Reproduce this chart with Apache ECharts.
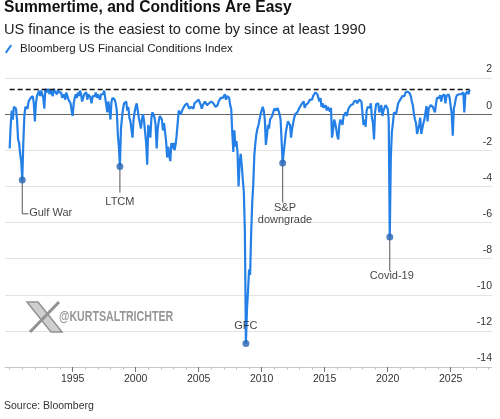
<!DOCTYPE html>
<html>
<head>
<meta charset="utf-8">
<script src="https://cdn.jsdelivr.net/npm/echarts@6/dist/echarts.min.js"></script>
<style>
  html, body { margin: 0; padding: 0; background: #fff; }
  #chart-container { width: 500px; height: 419px; }
</style>
</head>
<body>
<div id="chart-container"></div>
<script>
const FONT = '"Liberation Sans", Arial, sans-serif';

// Monthly readings of the index, Jan 1990 onwards
const startYear = 1990;
const fciValues = [
  -1.9, -0.6, 0.2, -0.3, 0.4, 0.5, 0.3, -0.3, -1.4, -1.6, -2.2, -2.6, // 1990
  -3.65, -1.6, -0.1, 0.4, 0.5, 0.3, 0.7, 0.6, 0.9, 0.8, 1.0, 0.6,     // 1991
  -0.4, 0.6, 1.0, 1.1, 1.3, 1.0, 1.3, 1.2, 0.9, 0.3, 1.4, 1.2,        // 1992
  1.2, 1.4, 1.1, 1.35, 1.3, 1.0, 1.4, 1.25, 1.3, 1.1, 1.35, 1.2,      // 1993
  1.3, 1.2, 0.9, 1.0, 1.1, 0.8, 1.2, 1.0, 0.8, 0.9, 0.6, 0.2,         // 1994
  -0.1, 0.6, 0.9, 1.1, 0.9, 1.2, 1.0, 1.3, 1.1, 0.7, 0.9, 1.1,        // 1995
  1.0, 1.2, 0.8, 1.1, 1.0, 0.9, 0.6, 1.0, 1.1, 1.0, 1.2, 0.9,         // 1996
  1.1, 1.0, 0.8, 1.1, 1.2, 1.1, 1.3, 0.9, 1.0, 0.1, 0.7, 0.3,         // 1997
  -0.3, 0.7, 0.9, 1.0, 0.8, 0.6, 0.2, -1.1, -1.8, -2.9, -0.8, -0.2,   // 1998
  0.3, 0.6, 0.5, 0.7, 0.2, 0.4, -0.2, -0.4, -0.4, -1.3, -0.3, 0.1,    // 1999
  0.4, 0.6, 0.2, -0.2, -0.5, -0.8, -0.3, 0.0, -0.4, -1.0, -1.6, -2.8, // 2000
  -0.6, -0.9, -1.3, -0.2, 0.1, 0.2, -0.2, -0.6, -1.9, -0.8, -0.4, -0.1, // 2001
  0.0, -0.3, -0.9, -0.5, -1.0, -1.5, -2.4, -1.8, -2.3, -2.6, -1.6, -1.9, // 2002
  -1.6, -2.0, -1.7, -1.2, -0.5, 0.2, 0.3, 0.0, 0.1, 0.3, 0.4, 0.5,    // 2003
  0.4, 0.6, 0.5, 0.3, 0.2, 0.4, 0.5, 0.3, 0.6, 0.5, 0.7, 0.8,         // 2004
  0.8, 0.7, 0.5, 0.3, 0.5, 0.6, 0.7, 0.6, 0.5, 0.4, 0.6, 0.7,         // 2005
  0.7, 0.8, 0.6, 0.7, 0.4, 0.3, 0.5, 0.7, 0.8, 0.9, 0.8, 0.9,         // 2006
  0.9, 1.1, 0.8, 1.0, 1.1, 0.9, 0.5, 0.3, -1.0, -2.1, -0.9, -1.8,     // 2007
  -1.5, -2.1, -4.0, -2.7, -2.2, -2.8, -3.6, -4.3, -6.5, -12.7, -10.8, -9.8, // 2008
  -8.6, -8.9, -6.6, -4.9, -3.9, -2.3, -1.6, -1.1, -0.8, -0.6, -0.3, 0.0, // 2009
  0.1, 0.4, 0.2, -0.3, -1.7, -1.2, -0.6, -0.8, -0.3, -0.2, -0.1, 0.1, // 2010
  0.3, 0.4, 0.2, 0.35, 0.2, 0.0, -0.3, -1.5, -2.7, -2.1, -1.6, -1.0,  // 2011
  -0.7, -0.4, -0.3, -0.6, -1.3, -0.8, -0.5, -0.2, 0.0, -0.1, 0.1, 0.0, // 2012
  0.35, 0.4, 0.55, 0.5, 0.7, 0.35, 0.5, 0.4, 0.6, 0.7, 0.8, 0.9,      // 2013
  0.8, 1.0, 1.1, 1.2, 1.25, 1.1, 0.9, 0.7, 0.9, 0.4, 0.6, 0.35,       // 2014
  0.3, 0.5, 0.2, 0.4, 0.3, 0.15, 0.35, -1.3, -0.9, -0.3, -0.5, -0.8,  // 2015
  -1.2, -1.4, -0.6, -0.3, -0.2, -0.6, -0.1, 0.0, 0.1, -0.1, 0.15, 0.35, // 2016
  0.4, 0.5, 0.6, 0.55, 0.7, 0.8, 0.75, 0.6, 0.7, 0.8, 0.75, 0.7,      // 2017
  0.8, -0.6, -0.3, -0.7, 0.2, 0.4, 0.5, 0.35, 0.6, -0.2, -0.5, -1.4,  // 2018
  0.1, 0.55, 0.5, 0.6, 0.1, 0.3, 0.5, -0.1, 0.2, 0.3, 0.5, 0.45,      // 2019
  0.3, -0.3, -6.8, -2.4, -1.0, -0.5, 0.1, 0.2, 0.0, 0.3, 0.6, 0.7,    // 2020
  0.8, 0.9, 1.0, 1.1, 1.0, 1.2, 1.1, 1.25, 1.2, 1.15, 1.0, 0.7,       // 2021
  0.5, 0.0, -0.3, -0.5, -1.1, -1.2, -0.6, -0.2, -1.1, -1.2, -0.5, -0.3, // 2022
  0.1, 0.45, -0.4, 0.3, 0.35, 0.5, 0.6, 0.4, 0.3, 0.1, 0.55, 0.9,     // 2023
  0.8, 0.9, 1.05, 0.7, 1.0, 1.05, 1.1, 0.6, 1.0, 1.05, 1.1, 0.9,      // 2024
  0.8, 0.0, -1.2, 0.3, 0.55, 0.9, 1.05, 1.0, 1.1, 1.2, 1.1, 1.15,     // 2025
  1.2, 0.1, 1.1, 1.2, 1.25, 1.1, 1.35                                 // 2026
];
const fciDates = fciValues.map((_, i) => startYear + i / 12);

// dashed reference at the current level
const currentLevel = 1.36;
const currentSpan = [1990, 2026.5];

// axis ranges and ticks
const xMin = 1989.63;
const xMax = 2028.28;
const yearLabels = [1995, 2000, 2005, 2010, 2015, 2020, 2025];
const yearTicks = [1990, 1991, 1992, 1993, 1994, 1996, 1997, 1998, 1999,
  2001, 2002, 2003, 2004, 2006, 2007, 2008, 2009, 2011, 2012,
  2013, 2014, 2016, 2017, 2018, 2019, 2021, 2022, 2023, 2024,
  2026, 2027, 2028];
const yMin = -14;
const yMax = 2;

// annotated episodes
const eventNames = ["Gulf War", "LTCM", "GFC", "S&P\ndowngrade", "Covid-19"];
const eventDates = [1991.0, 1998.75, 2008.75, 2011.667, 2020.167];
const eventValues = [-3.65, -2.9, -12.7, -2.7, -6.8];
const leaderPaths = [
  [[1991.0, -3.65], [1991.0, -5.52], [1991.5, -5.52]],
  [[1998.75, -2.9], [1998.75, -4.35]],
  [[2008.75, -12.7], [2008.75, -12.15]],
  [[2011.667, -2.7], [2011.667, -4.9]],
  [[2020.167, -6.8], [2020.167, -8.7]]
];
const labelPoints = [
  [1991.55, -5.48], [1998.75, -4.85], [2008.75, -11.72], [2011.85, -5.55], [2020.33, -8.95]
];

const chart = echarts.init(document.getElementById("chart-container"));

// zero line darker than the other gridlines
const splitColors = [];
for (let v = yMin; v <= yMax; v += 2) splitColors.push(v === 0 ? "#666" : "#e3e3e3");

const option = {
  animation: false,
  backgroundColor: "#fff",
  textStyle: { fontFamily: FONT },
  title: [
    {
      text: "Summertime, and Conditions Are Easy",
      left: 4, top: 0, padding: 0,
      textStyle: { fontSize: 15.6, fontWeight: "bold", color: "#111", fontFamily: FONT }
    },
    {
      text: "US finance is the easiest to come by since at least 1990",
      left: 4, top: 22, padding: 0,
      textStyle: { fontSize: 14.6, fontWeight: "normal", color: "#222", fontFamily: FONT }
    },
    {
      text: "Source: Bloomberg",
      left: 4, top: 401, padding: 0,
      textStyle: { fontSize: 10.5, fontWeight: "normal", color: "#333", fontFamily: FONT }
    }
  ],
  legend: {
    left: 5, top: 43, padding: 0,
    itemWidth: 7, itemHeight: 9,
    data: [{ name: "Bloomberg US Financial Conditions Index", icon: "path://M0,10 L7,0 L9,1.5 L2,11.5 Z" }],
    textStyle: { fontSize: 11.5, color: "#222", fontFamily: FONT, padding: [0, 0, 0, 3] }
  },
  grid: { left: 5, right: 8, top: 78, bottom: 52 },
  xAxis: [
    {
      type: "value", min: xMin, max: xMax,
      axisLine: { show: true, onZero: false, lineStyle: { color: "#c8c8c8" } },
      axisTick: { show: true, customValues: yearLabels, length: 5, lineStyle: { color: "#777", width: 1 } },
      axisLabel: {
        customValues: yearLabels, formatter: (v) => String(Math.round(v)),
        fontSize: 10.5, color: "#333", margin: 7, fontFamily: FONT
      },
      splitLine: { show: false }
    },
    {
      type: "value", min: xMin, max: xMax, position: "bottom",
      axisLine: { show: false, onZero: false },
      axisTick: { show: true, customValues: yearTicks, length: 2.5, lineStyle: { color: "#bbb" } },
      axisLabel: { show: false },
      splitLine: { show: false }
    }
  ],
  yAxis: {
    type: "value", position: "right", min: yMin, max: yMax, interval: 2,
    axisLine: { show: false },
    axisTick: { show: false },
    axisLabel: {
      inside: true, margin: 0, verticalAlign: "bottom",
      fontSize: 10.5, color: "#333", padding: [0, 0, 3, 0], fontFamily: FONT
    },
    splitLine: { show: true, lineStyle: { color: splitColors, width: 1 } }
  },
  series: [
    {
      name: "Bloomberg US Financial Conditions Index",
      type: "line",
      data: fciDates.map((d, i) => [d, fciValues[i]]),
      symbol: "none",
      lineStyle: { color: "#2480e6", width: 2.2 },
      itemStyle: { color: "#2480e6" },
      z: 3
    },
    {
      type: "line",
      data: currentSpan.map((d) => [d, currentLevel]),
      symbol: "none",
      lineStyle: { color: "#111", width: 1.5, type: [5, 3] },
      silent: true,
      z: 4
    },
    {
      type: "lines",
      coordinateSystem: "cartesian2d",
      polyline: true,
      data: leaderPaths.map((c) => ({ coords: c })),
      lineStyle: { color: "#555", width: 1, opacity: 1 },
      silent: true,
      z: 2
    },
    {
      type: "scatter",
      data: eventDates.map((d, i) => [d, eventValues[i]]),
      symbolSize: 7,
      itemStyle: { color: "#2867b8" },
      silent: true,
      z: 5
    },
    {
      type: "scatter",
      symbolSize: 0,
      silent: true,
      z: 6,
      data: labelPoints.map((p, i) => ({
        value: p,
        label: {
          show: true,
          formatter: eventNames[i],
          position: "inside",
          align: i === 0 ? "left" : "center",
          verticalAlign: "middle",
          fontSize: 11,
          lineHeight: 12,
          color: "#111",
          fontFamily: FONT
        }
      }))
    }
  ],
  graphic: [
    {
      type: "polygon", z: 10,
      shape: { points: [[27, 302], [38, 302], [62, 332], [51, 332]] },
      style: { fill: "#cfcfcf", stroke: "#929292", lineWidth: 1.5 }
    },
    {
      type: "line", z: 10,
      shape: { x1: 59, y1: 302, x2: 30, y2: 332 },
      style: { stroke: "#929292", lineWidth: 3 }
    },
    {
      type: "text", z: 10, x: 59, y: 317, scaleX: 0.76,
      style: {
        text: "@KURTSALTRICHTER", fill: "#969696",
        fontSize: 14, fontWeight: "bold", fontFamily: FONT, verticalAlign: "middle"
      }
    }
  ]
};

chart.setOption(option);
</script>
</body>
</html>
